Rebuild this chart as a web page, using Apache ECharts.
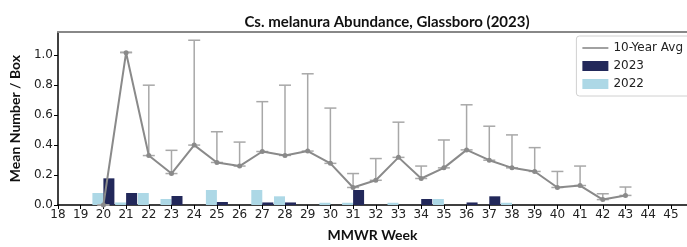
<!DOCTYPE html>
<html>
<head>
<meta charset="utf-8">
<script src="https://cdn.jsdelivr.net/npm/echarts@6/dist/echarts.min.js"></script>
<style>
  html, body { margin: 0; padding: 0; background: #fff; }
  #chart { width: 687px; height: 247px; }
</style>
</head>
<body>
<div id="chart"></div>
<script>
// MMWR weeks shown on the axis
const weeks = [18, 19, 20, 21, 22, 23, 24, 25, 26, 27, 28, 29, 30, 31, 32, 33, 34, 35, 36, 37, 38, 39, 40, 41, 42, 43, 44, 45];
const yTicks = [0, 0.2, 0.4, 0.6, 0.8, 1.0];

// weekly mean per box, 2023 and 2022
const y2023 = [0, 0, 0.178, 0.08, 0, 0.06, 0, 0.02, 0, 0.017, 0.017, 0, 0, 0.10, 0, 0, 0.04, 0, 0.017, 0.058, 0, 0, 0, 0, 0, 0, 0, 0];
const y2022 = [0, 0, 0.08, 0.017, 0.08, 0.04, 0, 0.10, 0, 0.10, 0.058, 0, 0.015, 0.015, 0, 0.015, 0, 0.04, 0, 0, 0.015, 0, 0, 0, 0, 0, 0, 0];

// 10-year average and top of its error bar (weeks 20-43)
const avgWeeks = [20, 21, 22, 23, 24, 25, 26, 27, 28, 29, 30, 31, 32, 33, 34, 35, 36, 37, 38, 39, 40, 41, 42, 43];
const avg10 = [0, 1.017, 0.33, 0.21, 0.40, 0.284, 0.26, 0.357, 0.331, 0.36, 0.278, 0.117, 0.165, 0.318, 0.177, 0.248, 0.368, 0.299, 0.248, 0.224, 0.117, 0.13, 0.036, 0.064];
const avgTop = [0, 1.02, 0.80, 0.365, 1.10, 0.489, 0.42, 0.69, 0.80, 0.876, 0.647, 0.21, 0.31, 0.553, 0.26, 0.434, 0.669, 0.526, 0.468, 0.383, 0.224, 0.26, 0.075, 0.12];

const tickFont = 'DejaVu Sans, sans-serif';
const boldFont = 'Lato, sans-serif';

const chart = echarts.init(document.getElementById('chart'));

chart.setOption({
  animation: false,
  title: {
    text: 'Cs. melanura Abundance, Glassboro (2023)',
    left: 382, top: 10, textAlign: 'center',
    textStyle: { fontFamily: boldFont, fontSize: 15, fontWeight: 'bold', color: '#111' }
  },
  legend: {
    orient: 'vertical',
    right: -8, top: 36,
    itemWidth: 26, itemHeight: 10, itemGap: 6,
    padding: [6, 12, 6, 6],
    borderColor: '#d0d0d0', borderWidth: 1, borderRadius: 3,
    backgroundColor: 'rgba(255,255,255,0.85)',
    textStyle: { fontFamily: tickFont, fontSize: 12, color: '#222' },
    data: [
      { name: '10-Year Avg', icon: 'path://M0,0 M26,10 M0,4.2 L26,4.2 L26,5.8 L0,5.8 Z' },
      { name: '2023', icon: 'rect' },
      { name: '2022', icon: 'rect' }
    ]
  },
  grid: { left: 54, right: 0, top: 32, bottom: 35 },
  xAxis: [{
    type: 'value', min: 18, max: 45.71,
    name: 'MMWR Week', nameLocation: 'middle', nameGap: 23,
    nameTextStyle: { fontFamily: boldFont, fontSize: 14, fontWeight: 'bold', color: '#111' },
    axisLine: { lineStyle: { color: '#000', width: 1.5 } },
    axisTick: { customValues: weeks, length: 4, lineStyle: { color: '#000' } },
    axisLabel: { customValues: weeks, fontFamily: tickFont, fontSize: 12, color: '#222', margin: 4 },
    splitLine: { show: false }
  }, {
    type: 'value', position: 'top', min: 18, max: 45.71,
    axisLine: { show: true, lineStyle: { color: '#888', width: 2 } },
    axisTick: { show: false }, axisLabel: { show: false }, splitLine: { show: false }
  }],
  yAxis: {
    type: 'value', min: 0, max: 1.155,
    name: 'Mean Number / Box', nameLocation: 'middle', nameGap: 36,
    nameTextStyle: { fontFamily: boldFont, fontSize: 14, fontWeight: 'bold', color: '#111' },
    axisLine: { show: true, lineStyle: { color: '#000', width: 1.5 } },
    axisTick: { show: true, customValues: yTicks, length: 4, lineStyle: { color: '#000' } },
    axisLabel: {
      customValues: yTicks, fontFamily: tickFont, fontSize: 12, color: '#222', margin: 5,
      formatter: v => v.toFixed(1)
    },
    splitLine: { show: false }
  },
  series: [
    {
      name: '2022', type: 'bar', barWidth: 11, barGap: '0%',
      itemStyle: { color: '#add8e6' },
      data: weeks.map((w, i) => [w, y2022[i]]),
      z: 2
    },
    {
      name: '2023', type: 'bar', barWidth: 11, barGap: '0%',
      itemStyle: { color: '#22285a' },
      data: weeks.map((w, i) => [w, y2023[i]]),
      z: 2
    },
    {
      name: 'errbars', type: 'custom',
      data: avgWeeks.map((w, i) => [w, avg10[i], avgTop[i]]),
      renderItem: (params, api) => {
        const lo = api.coord([api.value(0), api.value(1)]);
        const hi = api.coord([api.value(0), api.value(2)]);
        const cap = 6;
        const style = { stroke: '#a8a8a8', lineWidth: 1.5 };
        return {
          type: 'group',
          children: [
            { type: 'line', shape: { x1: lo[0], y1: lo[1], x2: hi[0], y2: hi[1] }, style },
            { type: 'line', shape: { x1: hi[0] - cap, y1: hi[1], x2: hi[0] + cap, y2: hi[1] }, style },
            { type: 'line', shape: { x1: lo[0] - cap, y1: lo[1], x2: lo[0] + cap, y2: lo[1] }, style }
          ]
        };
      },
      z: 3
    },
    {
      name: '10-Year Avg', type: 'line',
      data: avgWeeks.map((w, i) => [w, avg10[i]]),
      symbol: 'circle', symbolSize: 5,
      lineStyle: { color: '#8a8a8a', width: 2 },
      itemStyle: { color: '#8a8a8a' },
      z: 4
    }
  ]
});
</script>
</body>
</html>
